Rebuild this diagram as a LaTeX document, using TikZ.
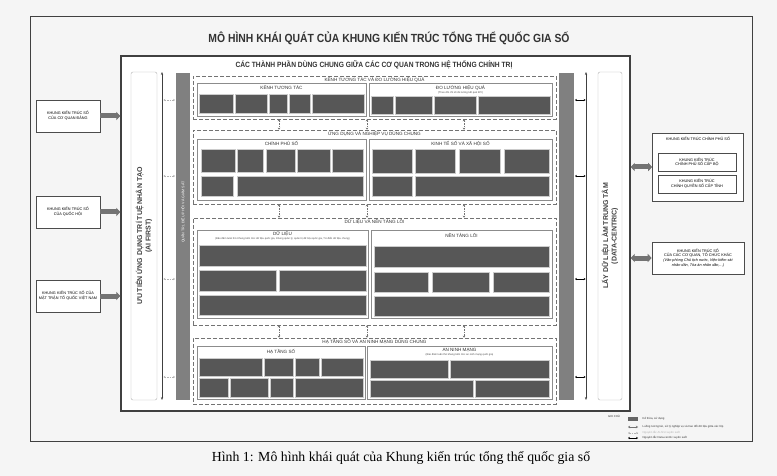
\documentclass[tikz,border=0pt]{standalone}
\usepackage{fontspec}
\setmainfont{Liberation Serif}
\setsansfont{Liberation Sans}
\usetikzlibrary{arrows.meta,positioning,fit}
\def\sz#1#2{\fontsize{#1}{#2}\selectfont}
\def\cells#1#2#3{\foreach \a/\b in {#3} \draw[cell] (\a,#1) rectangle (\b,#2);}

\begin{document}
\begin{tikzpicture}[x=1pt,y=-1pt,
	frame/.style={draw=black!75, line width=1pt},
	sect/.style={draw=black!55, dash pattern=on 4pt off 2pt, line width=0.7pt, inner sep=0pt},
	panel/.style={draw=black!45, fill=white, line width=0.5pt, inner sep=0pt},
	cell/.style={fill=black!66, draw=black!20, line width=0.3pt},
	seclbl/.style={font=\sffamily\sz{4.6}{5}, text=black!80, inner sep=0.5pt},
	sublbl/.style={font=\sffamily\sz{2.6}{3}, text=black!70, inner sep=0.3pt},
	kbox/.style={draw=black!70, line width=0.6pt, fill=white, align=center, font=\sffamily\sz{3.8}{4.8}, inner sep=1pt},
	fatarrow/.style={line width=5pt, draw=black!55, -{Triangle[length=4pt,width=8pt]}},
	fatboth/.style={line width=5pt, draw=black!55, {Triangle[length=4pt,width=8pt]}-{Triangle[length=4pt,width=8pt]}},
	link/.style={draw=black!55, dash pattern=on 1.5pt off 1pt, line width=0.5pt, {Stealth[length=2pt,width=2.5pt]}-{Stealth[length=2pt,width=2.5pt]}},
	tick/.style={draw=black, line width=0.5pt, {Stealth[length=1.8pt,width=2.2pt]}-{Stealth[length=1.8pt,width=2.2pt]}},
	faint/.style={draw=black!30, dash pattern=on 1.5pt off 1pt, line width=0.5pt, {Stealth[length=1.8pt,width=2.2pt]}-{Stealth[length=1.8pt,width=2.2pt]}},
	vtext/.style={rotate=90, align=center, font=\sffamily\bfseries\sz{7}{8.5}, text=black!75},
	legtext/.style={anchor=west, font=\sffamily\sz{2.8}{3}, text=black!80, inner sep=0.5pt}]
	%%%%% START %%%%%
	\useasboundingbox (0,0) rectangle (777,476);
	\fill[black!4] (0,0) rectangle (777,476);
	
	% outer frame and title
	\draw[frame] (30,17) rectangle (752,441);
	\node[text=black!80] (title) at (389,38) {\scalebox{0.88}[1]{\sffamily\bfseries\sz{11.8}{13}MÔ HÌNH KHÁI QUÁT CỦA KHUNG KIẾN TRÚC TỔNG THỂ QUỐC GIA SỐ}};
	
	% common components frame
	\node[frame, line width=1.2pt, fill=white, minimum width=509, minimum height=355, inner sep=0] (core) at (375.5,233.5) {};
	\node[text=black!80] (common) at (374,65) {\scalebox{0.88}[1]{\sffamily\bfseries\sz{7.6}{8}CÁC THÀNH PHẦN DÙNG CHUNG GIỮA CÁC CƠ QUAN TRONG HỆ THỐNG CHÍNH TRỊ}};
	
	% side bars
	\draw[draw=black!30, fill=white, rounded corners=2pt] (131,72) rectangle (157,400);
	\node[vtext] (aifirst) at (144,236) {ƯU TIÊN ỨNG DỤNG TRÍ TUỆ NHÂN TẠO\\(AI FIRST)};
	\draw[draw=black!30, fill=white, rounded corners=2pt] (598,72) rectangle (622,400);
	\node[vtext] (datac) at (610,236) {LẤY DỮ LIỆU LÀM TRUNG TÂM\\(DATA-CENTRIC)};
	
	\coordinate (ait) at (162,72);
	\coordinate (aib) at (162,400);
	\draw[black!75, line width=0.6pt, {Stealth[length=3pt]}-{Stealth[length=3pt]}] (ait) -- (aib);
	\coordinate (dct) at (586,72);
	\coordinate (dcb) at (586,400);
	\draw[black!75, line width=0.6pt, {Stealth[length=3pt]}-{Stealth[length=3pt]}] (dct) -- (dcb);
	
	\fill[black!50] (176,73) rectangle (190,400);
	\node[rotate=90, font=\sffamily\sz{3.6}{4}, text=white] (govern) at (183,212) {QUẢN TRỊ, ĐIỀU PHỐI VÀ GIÁM SÁT};
	\fill[black!50] (559,73) rectangle (574,400);
	
	\foreach \y in {100,176,279,377} {
		\draw[faint] (163.5,\y) -- (175,\y);
		\draw[tick] (575,\y) -- (585.5,\y);
	}
	
	% layer 1
	\node[sect, fit={(193,76) (556,119)}] (sec1) {};
	\node[seclbl, below=1.5pt of sec1.north] {KÊNH TƯƠNG TÁC VÀ ĐO LƯỜNG HIỆU QUẢ};
	\node[panel, fit={(197,83) (366,116)}] (kenh) {};
	\node[seclbl, below=2pt of kenh.north] {KÊNH TƯƠNG TÁC};
	\node[panel, fit={(369,83) (552,116)}] (dolu) {};
	\node[seclbl, below=1.5pt of dolu.north] (dolulbl) {ĐO LƯỜNG HIỆU QUẢ};
	\node[sublbl, below=0pt of dolulbl] {(Theo dõi chỉ số đo lường kết quả KPI)};
	\cells{94}{113}{199/233, 235/267, 269/287, 289/310, 312/364}
	\cells{96}{114}{371/393, 395/432, 434/476, 478/550}
	
	% layer 2
	\node[sect, fit={(193,130) (556,204)}] (sec2) {};
	\node[seclbl, below=1.5pt of sec2.north] {ỨNG DỤNG VÀ NGHIỆP VỤ DÙNG CHUNG};
	\node[panel, fit={(197,139) (366,200)}] (cps) {};
	\node[seclbl, below=2pt of cps.north] {CHÍNH PHỦ SỐ};
	\node[panel, fit={(369,139) (552,200)}] (ktxh) {};
	\node[seclbl, below=2pt of ktxh.north] {KINH TẾ SỐ VÀ XÃ HỘI SỐ};
	\cells{149}{172}{201/235, 237/263, 266/295, 297/330, 332/363}
	\cells{176}{196}{201/233, 237/363}
	\cells{149}{173}{372/412, 415/455, 459/500, 504/549}
	\cells{176}{196}{372/412, 415/549}
	
	% layer 3
	\node[sect, fit={(193,218) (556,325)}] (sec3) {};
	\node[seclbl, below=1.5pt of sec3.north] {DỮ LIỆU VÀ NỀN TẢNG LÕI};
	\node[panel, fit={(197,230) (368,318)}] (dl) {};
	\node[seclbl, below=1.5pt of dl.north] (dllbl) {DỮ LIỆU};
	\node[sublbl, below=0pt of dllbl] {(Bảo đảm tuân thủ Khung kiến trúc dữ liệu quốc gia, Khung quản lý, quản trị dữ liệu quốc gia, Từ điển dữ liệu chung)};
	\node[panel, fit={(371,230) (552,318)}] (ntl) {};
	\node[seclbl, below=2.5pt of ntl.north] {NỀN TẢNG LÕI};
	\cells{245}{266}{199/366}
	\cells{270}{291}{199/276, 279/366}
	\cells{295}{315}{199/366}
	\cells{246}{267}{374/549}
	\cells{272}{292}{374/428, 432/489, 493/549}
	\cells{296}{316}{374/549}
	
	% layer 4
	\node[sect, fit={(193,338) (556,404)}] (sec4) {};
	\node[seclbl, below=1.5pt of sec4.north] {HẠ TẦNG SỐ VÀ AN NINH MẠNG DÙNG CHUNG};
	\node[panel, fit={(197,346) (365,399)}] (hts) {};
	\node[seclbl, below=2.5pt of hts.north] {HẠ TẦNG SỐ};
	\node[panel, fit={(367,346) (552,399)}] (anm) {};
	\node[seclbl, below=1.5pt of anm.north] (anmlbl) {AN NINH MẠNG};
	\node[sublbl, below=0pt of anmlbl] {(Bảo đảm tuân thủ khung kiến trúc an ninh mạng quốc gia)};
	\cells{358}{376}{199/262, 264/293, 295/319, 321/363}
	\cells{378}{397}{199/228, 230/268, 270/293, 295/363}
	\cells{360}{378}{370/448, 450/549}
	\cells{380}{397}{370/473, 475/549}
	
	% links between layers
	\coordinate (la) at (279,0);
	\coordinate (lb) at (367,0);
	\coordinate (lc) at (464,0);
	\foreach \c in {la,lb,lc} {
		\draw[link] (\c |- sec1.south) -- (\c |- sec2.north);
		\draw[link] (\c |- sec2.south) -- (\c |- sec3.north);
		\draw[link] (\c |- sec3.south) -- (\c |- sec4.north);
	}
	
	% left frameworks
	\node[kbox, minimum width=64, minimum height=32] (dang) at (68,116) {KHUNG KIẾN TRÚC SỐ\\CỦA CƠ QUAN ĐẢNG};
	\node[kbox, minimum width=64, minimum height=32] (quochoi) at (68,212) {KHUNG KIẾN TRÚC SỐ\\CỦA QUỐC HỘI};
	\node[kbox, minimum width=64, minimum height=32, text width=60] (mttq) at (68,296) {KHUNG KIẾN TRÚC SỐ CỦA MẶT TRẬN TỔ QUỐC VIỆT NAM};
	\foreach \n in {dang,quochoi,mttq}
		\draw[fatarrow] (\n.east) -- (\n.east -| core.west);
	
	% right frameworks
	\node[kbox, minimum width=91, minimum height=68] (cpso) at (698,167) {};
	\node[kbox, draw=none, below=3pt of cpso.north] {KHUNG KIẾN TRÚC CHÍNH PHỦ SỐ};
	\node[kbox, minimum width=78, minimum height=18] (capbo) at (697,162) {KHUNG KIẾN TRÚC\\CHÍNH PHỦ SỐ CẤP BỘ};
	\node[kbox, minimum width=78, minimum height=18] (captinh) at (697,184) {KHUNG KIẾN TRÚC\\CHÍNH QUYỀN SỐ CẤP TỈNH};
	\node[kbox, minimum width=92, minimum height=32] (khac) at (698,258) {KHUNG KIẾN TRÚC SỐ\\CỦA CÁC CƠ QUAN, TỔ CHỨC KHÁC\\{\itshape (Văn phòng Chủ tịch nước, Viện kiểm sát}\\{\itshape nhân dân, Tòa án nhân dân,...)}};
	\draw[fatboth] (core.east |- cpso.west) -- (cpso.west);
	\draw[fatboth] (core.east |- khac.west) -- (khac.west);
	
	% legend
	\node[font=\sffamily\sz{2.8}{3}, text=black!80] (legend) at (614,416) {GHI CHÚ};
	\fill[black!60] (628,417) rectangle (638,421);
	\node[legtext] (leg1) at (642,419) {Kế thừa, sử dụng};
	\coordinate (l2a) at (628,427);
	\coordinate (l2b) at (638,427);
	\draw[link, dash pattern=] (l2a) -- (l2b);
	\node[legtext] (leg2) at (642,427) {Luồng tương tác, xử lý nghiệp vụ và trao đổi dữ liệu giữa các lớp};
	\coordinate (l3a) at (628,433);
	\coordinate (l3b) at (638,433);
	\draw[faint] (l3a) -- (l3b);
	\node[legtext, text=black!30] (leg3) at (642,433) {Nguyên tắc AI-first xuyên suốt};
	\coordinate (l4a) at (628,438);
	\coordinate (l4b) at (638,438);
	\draw[tick] (l4a) -- (l4b);
	\node[legtext] (leg4) at (642,438) {Nguyên tắc Data-centric xuyên suốt};
	
	% caption
	\node[font=\sz{13.8}{15}] (caption) at (401,458) {Hình 1: Mô hình khái quát của Khung kiến trúc tổng thể quốc gia số};
	%%%%% END %%%%%
\end{tikzpicture}
\end{document}
